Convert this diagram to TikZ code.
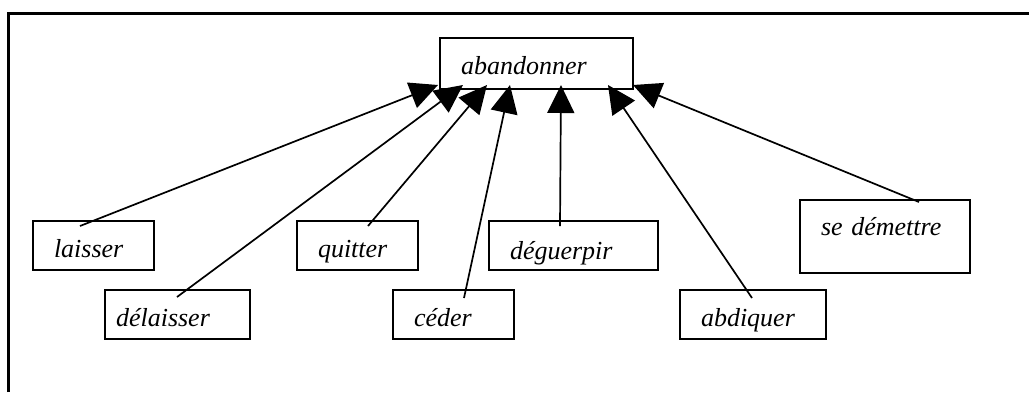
\documentclass[tikz,border=0pt]{standalone}
\usepackage{fontspec}
\setmainfont{Liberation Serif}
\usetikzlibrary{arrows.meta}

\tikzset{
  wordbox/.style={draw, line width=2pt, anchor=north west, align=left,
    inner xsep=21pt, inner ysep=0pt, minimum height=49pt,
    text height=23pt, text depth=0pt,
    font=\fontsize{26}{30}\selectfont\itshape},
  syn/.style={line width=1.7pt, -{Triangle[length=28pt,width=27pt]}}
}

\begin{document}
\begin{tikzpicture}[x=1pt, y=-1pt]
  \useasboundingbox (0,0) rectangle (1029,392);
  % frame, only top and left edge show
  \draw[line width=3pt] (8,392) -- (8,13) -- (1029,13);

  % head word
  \node[wordbox, text width=151pt, minimum height=51pt, text height=21pt] (abandonner) at (439,37) {abandonner};

  % synonyms, upper row
  \node[wordbox, text width=79pt] (laisser) at (32,220) {laisser};
  \node[wordbox, text width=79pt] (quitter) at (296,220) {quitter};
  \node[wordbox, text width=127pt, text height=27pt] (deguerpir) at (488,220) {déguerpir};
  \node[wordbox, text width=128pt, minimum height=73pt, text height=20pt, text depth=23pt] (demettre) at (799,199) {se démettre};
  % synonyms, lower row
  \node[wordbox, text width=123pt, inner xsep=11pt] (delaisser) at (104,289) {délaisser};
  \node[wordbox, text width=79pt] (ceder) at (392,289) {céder};
  \node[wordbox, text width=104pt] (abdiquer) at (679,289) {abdiquer};

  % arrows to the head word
  \draw[syn] ([shift={(48,6)}]laisser.north west) -- ([shift={(-1,-5)}]abandonner.south west);
  \draw[syn] ([shift={(73,8)}]delaisser.north west) -- ([shift={(24,-5)}]abandonner.south west);
  \draw[syn] ([shift={(72,6)}]quitter.north west) -- ([shift={(48,-5)}]abandonner.south west);
  \draw[syn] ([shift={(72,9)}]ceder.north west) -- ([shift={(71,-5)}]abandonner.south west);
  \draw[syn] ([shift={(72,6)}]deguerpir.north west) -- ([shift={(122,-5)}]abandonner.south west);
  \draw[syn] ([shift={(73,9)}]abdiquer.north west) -- ([shift={(169,-5)}]abandonner.south west);
  \draw[syn] ([shift={(120,3)}]demettre.north west) -- ([shift={(194,-5)}]abandonner.south west);
\end{tikzpicture}
\end{document}
